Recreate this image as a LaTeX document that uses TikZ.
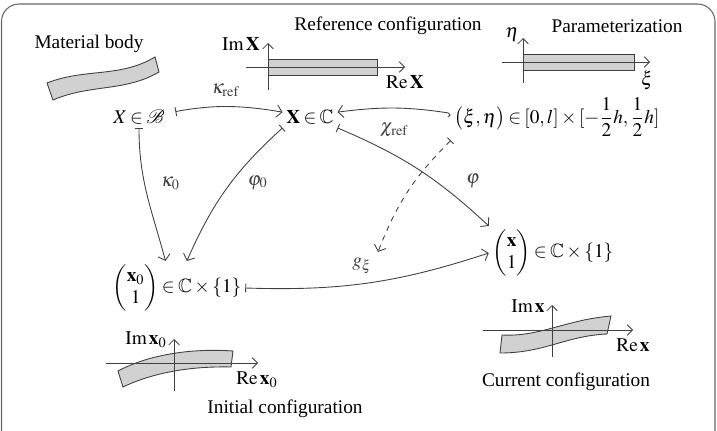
\documentclass[tikz,border=0pt]{standalone}
\usepackage{amsmath,amssymb}
\usepackage{mathptmx}
\usepackage{fontspec}
\setmainfont{Liberation Serif}
\newfontfamily\serifa{Liberation Serif}
\usetikzlibrary{arrows.meta}
\thickmuskip=3mu plus 2mu
\medmuskip=2.5mu plus 1mu

\begin{document}
\begin{tikzpicture}[x=0.02cm, y=0.02cm, font=\serifa\fontsize{11}{13}\selectfont,
  flecha/.style={line width=0.5pt, black!75, {Bar[width=5pt]}-{Straight Barb[length=3pt,width=7pt]}},
  eje/.style={line width=0.5pt, black!75, -{Straight Barb[length=3pt,width=6pt]}},
  banda/.style={fill=black!18, draw=black!75, line width=0.5pt},
  mapa/.style={inner sep=2pt}]
  \useasboundingbox (0,0) rectangle (717,430);
  \clip (0,0) rectangle (717,430);
  % Marco
  \draw[black!60, line width=0.6pt, rounded corners=10pt] (1.5,426) rectangle (715,-20);
  % Cuerpo material
  \node (tcuerpo) at (89,386) {Material body};
  \draw[banda] (47,347) .. controls (85,362) and (120,352) .. (155,373)
    -- (159,358) .. controls (125,338) and (90,346) .. (53,330) -- cycle;
  % Configuracion de referencia
  \node (tref) at (388,404) {Reference configuration};
  \draw[banda] (268,371) rectangle (377,355);
  \draw[eje] (246,363) -- (405,363);
  \draw[eje] (268,340) -- (268,387);
  \node (imX) at (241,386) {$\mathrm{Im}\,\mathbf{X}$};
  \node (reX) at (405,348) {$\mathrm{Re}\,\mathbf{X}$};
  % Parametrizacion
  \node (tpar) at (617,404) {Parameterization};
  \draw[banda] (523,376) rectangle (634,360);
  \draw[eje] (502,368) -- (650,368);
  \draw[eje] (523,347) -- (523,392);
  \node (eta) at (512,395) {$\eta$};
  \node (xi) at (647,350) {$\xi$};
  % Configuracion inicial
  \draw[banda] (118,59) .. controls (148,75) and (190,82) .. (233,79)
    -- (231,63) .. controls (190,64) and (152,57) .. (123,43) -- cycle;
  \draw[eje] (106,67) -- (258,67);
  \draw[eje] (174,39) -- (174,91);
  \node (imx0) at (146,90) {$\mathrm{Im}\,\mathbf{x}_0$};
  \node (rex0) at (257,50) {$\mathrm{Re}\,\mathbf{x}_0$};
  \node (tini) at (285,21) {Initial configuration};
  % Configuracion actual
  \draw[banda] (502,95) .. controls (540,93) and (565,110) .. (611,114)
    -- (607,96) .. controls (565,94) and (545,77) .. (500,77) -- cycle;
  \draw[eje] (483,100) -- (633,100);
  \draw[eje] (552,73) -- (552,125);
  \node (imx) at (528,124) {$\mathrm{Im}\,\mathbf{x}$};
  \node (rex) at (633,85) {$\mathrm{Re}\,\mathbf{x}$};
  \node (tact) at (566,48) {Current configuration};
  % Conjuntos
  \node[mapa] (B) at (139,313) {$X\in\mathcal{B}$};
  \node[mapa] (C) at (310,313) {$\mathbf{X}\in\mathbb{C}$};
  \node[mapa] (P) at (557,313)
    {$\big(\xi,\eta\big)\in[0,l]\times[-\dfrac{1}{2}h,\dfrac{1}{2}h]$};
  \node[mapa] (I) at (177,142)
    {$\begin{pmatrix}\mathbf{x}_0\\ 1\end{pmatrix}\in\mathbb{C}\times\{1\}$};
  \node[mapa] (A) at (553,177)
    {$\begin{pmatrix}\mathbf{x}\\ 1\end{pmatrix}\in\mathbb{C}\times\{1\}$};
  % Aplicaciones
  \draw[flecha, shorten <=4pt] (B.8) to[bend left=10]
    node[above=2pt] (lkref) {$\kappa_{\mathrm{ref}}$} (C.170);
  \draw[flecha, {Hooks[right]}-{Straight Barb[length=3pt,width=7pt]}] (P.178) to[bend right=8]
    node[below=5pt] (lchi) {$\chi_{\mathrm{ref}}$} (C.10);
  \draw[flecha] (B.south) to[out=-90, in=105]
    node[pos=0.4, right=6pt] (lk0) {$\kappa_0$} (I.113);
  \draw[flecha] (C.south west) to[bend right=12]
    node[pos=0.45, right=6pt] (lphi0) {$\varphi_0$} (I.70);
  \draw[flecha] (C.south east) to[bend left=10]
    node[pos=0.78, above right=2pt] (lphi) {$\varphi$} (A.north west);
  \draw[flecha] (I.east) to[bend right=10]
    node[pos=0.47, above=2pt] (lg) {$g_\xi$} (A.west);
  \draw[flecha, dashed] (P.south west) to[bend right=12] (lg.north east);
\end{tikzpicture}
\end{document}
